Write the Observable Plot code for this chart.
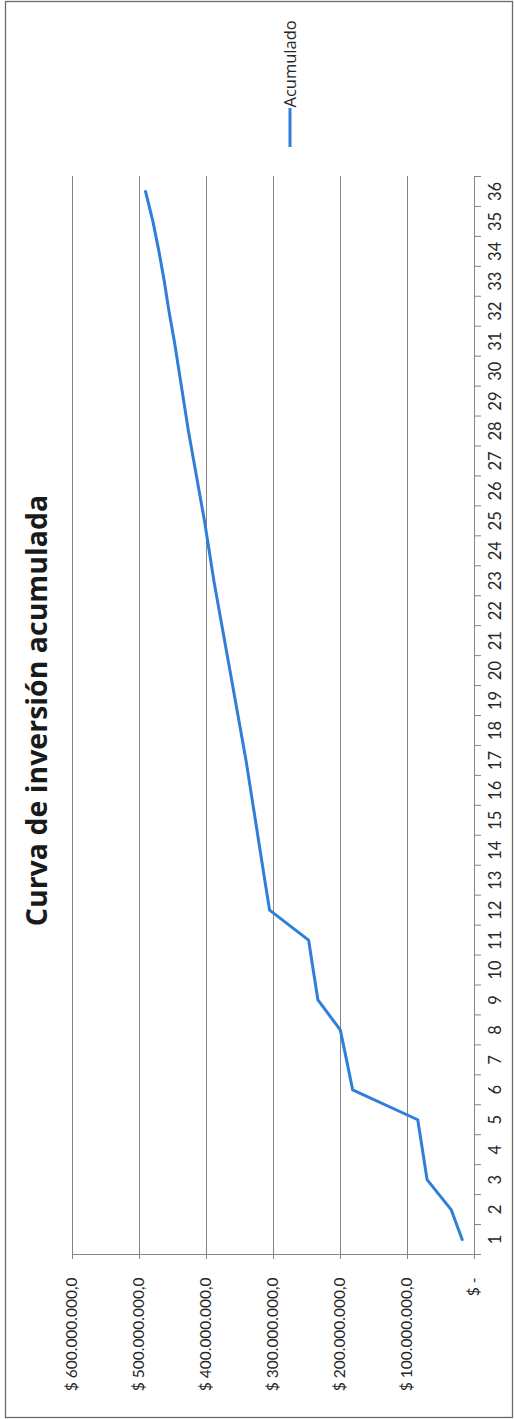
<!DOCTYPE html>
<html>
<head>
<meta charset="utf-8">
<script src="https://cdn.jsdelivr.net/npm/d3@7"></script>
<script src="https://cdn.jsdelivr.net/npm/@observablehq/plot@0.6"></script>
<style>
  html, body { margin: 0; padding: 0; background: #fff; }
  #chart { width: 514px; height: 1419px; }
</style>
</head>
<body>
<div id="chart"></div>
<script>
// ---- data ----
const chartTitle = "Curva de inversión acumulada";
const seriesName = "Acumulado";
const months = [1,2,3,4,5,6,7,8,9,10,11,12,13,14,15,16,17,18,19,20,21,22,23,24,25,26,27,28,29,30,31,32,33,34,35,36];
const acumulado = [
  18.4e6, 34.9e6, 70.8e6, 77.7e6, 84.7e6, 181.9e6, 191.0e6, 200.3e6, 233.7e6, 240.7e6,
  247.6e6, 305.8e6, 313.0e6, 320.0e6, 327.0e6, 334.0e6, 341.0e6, 349.0e6, 357.0e6, 365.0e6,
  373.0e6, 381.0e6, 389.0e6, 396.0e6, 403.0e6, 411.0e6, 419.0e6, 427.0e6, 434.0e6, 441.0e6,
  448.0e6, 456.0e6, 463.0e6, 471.0e6, 480.0e6, 491.0e6
];
const valueTicks = [0, 100e6, 200e6, 300e6, 400e6, 500e6, 600e6];
const valueTickLabels = ["$ -", "$ 100.000.000,0", "$ 200.000.000,0", "$ 300.000.000,0", "$ 400.000.000,0", "$ 500.000.000,0", "$ 600.000.000,0"];

// ---- derived ----
const rows = months.map((m, i) => ({mes: m, acumulado: acumulado[i]}));
const monthDomain = [months[0] - 0.5, months[months.length - 1] + 0.5];
const monthBounds = [monthDomain[0], ...months.map(m => m + 0.5)];
const lineColor = "#2f7ed8";
const gridColor = "#858585";

const legendSwatch = (index, scales, values, dims) => {
  const x = dims.marginLeft + (dims.width - dims.marginLeft - dims.marginRight) / 2 + 17;
  const y0 = dims.marginTop - 68;
  const g = d3.create("svg:g");
  g.append("line")
    .attr("x1", x).attr("x2", x)
    .attr("y1", y0).attr("y2", y0 + 39)
    .attr("stroke", lineColor).attr("stroke-width", 3);
  return g.node();
};

const chart = Plot.plot({
  width: 514,
  height: 1419,
  marginLeft: 72,
  marginRight: 40,
  marginTop: 176,
  marginBottom: 165,
  style: {fontFamily: "Lato, 'Open Sans', sans-serif", fontSize: "15px", background: "#fff", color: "#262626", overflow: "visible"},
  x: {type: "linear", domain: [valueTicks[0], valueTicks[valueTicks.length - 1]], reverse: true, axis: null, label: null},
  y: {type: "linear", domain: monthDomain, axis: null, label: null},
  marks: [
    Plot.frame({insetLeft: -67, insetRight: -38, insetTop: -175, insetBottom: -163, stroke: "#6a6a6a", strokeWidth: 1.3}),
    Plot.ruleX(valueTicks, {stroke: gridColor, strokeWidth: 1}),
    Plot.ruleY([monthDomain[0]], {stroke: gridColor, strokeWidth: 1}),
    Plot.axisX(valueTicks, {
      anchor: "bottom", label: null, tickSize: 5, tickPadding: 18, tickRotate: -90,
      textAnchor: "end", lineAnchor: "middle",
      tickFormat: d => valueTickLabels[valueTicks.indexOf(d)],
      stroke: gridColor, fill: "#262626", fontSize: 15.5
    }),
    Plot.axisY(monthBounds, {anchor: "right", label: null, tickSize: 6, tickFormat: () => "", stroke: gridColor}),
    Plot.axisY(months, {
      anchor: "right", label: null, tickSize: 0, tickPadding: 21, tickRotate: -90,
      textAnchor: "middle", lineAnchor: "middle",
      tickFormat: d => String(d), fill: "#262626", fontSize: 16.5
    }),
    Plot.line(rows, {x: "acumulado", y: "mes", stroke: lineColor, strokeWidth: 3, strokeLinejoin: "round", strokeLinecap: "round"}),
    Plot.text([chartTitle], {
      frameAnchor: "left", dx: -35, dy: -5, rotate: -90,
      textAnchor: "middle", lineAnchor: "middle",
      fontFamily: "'Open Sans', sans-serif",
      fontSize: 28.5, fontWeight: "bold", fill: "#1a1a1a"
    }),
    Plot.text([seriesName], {
      frameAnchor: "top", dx: 17, dy: -69, rotate: -90,
      textAnchor: "start", lineAnchor: "middle",
      fontFamily: "'Open Sans', sans-serif",
      fontSize: 16.5, fill: "#262626"
    }),
    legendSwatch
  ]
});
document.getElementById("chart").appendChild(chart);
</script>
</body>
</html>
